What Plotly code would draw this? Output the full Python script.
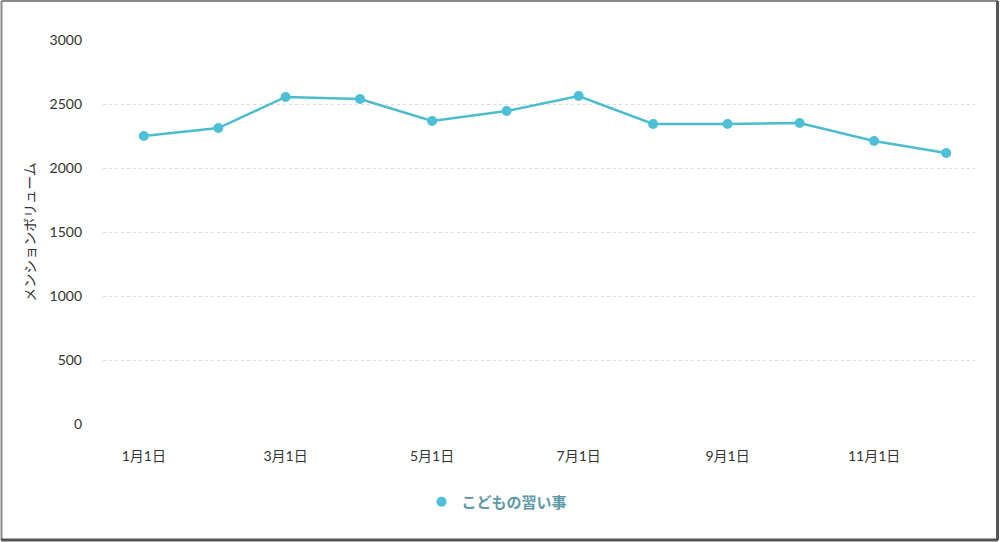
import plotly.graph_objects as go

dates = ["2023-01-01", "2023-02-01", "2023-03-01", "2023-04-01", "2023-05-01", "2023-06-01",
         "2023-07-01", "2023-08-01", "2023-09-01", "2023-10-01", "2023-11-01", "2023-12-01"]
values = [2250, 2312, 2555, 2539, 2367, 2445, 2562, 2344, 2344, 2352, 2211, 2117]
series_name = "こどもの習い事"
tick_dates = ["2023-01-01", "2023-03-01", "2023-05-01", "2023-07-01", "2023-09-01", "2023-11-01"]
tick_labels = ["1月1日", "3月1日", "5月1日", "7月1日", "9月1日", "11月1日"]
y_ticks = [0, 500, 1000, 1500, 2000, 2500, 3000]
y_title = "メンションボリューム"

font_family = "Lato, 'Noto Sans CJK JP', sans-serif"
line_color = "#4dbccf"

fig = go.Figure()
fig.add_trace(go.Scatter(
    x=dates, y=values, name=series_name, mode="lines",
    line=dict(color=line_color, width=2.5), showlegend=False,
))
fig.add_trace(go.Scatter(
    x=dates, y=values, name=series_name, mode="markers",
    marker=dict(color="#4dc0d6", size=10), showlegend=True,
))

PW, PH = 872, 384
L, T = 103, 40
def px(x):
    return (x - L) / PW
def py(y):
    return (T + PH - y) / PH

fig.update_layout(
    width=1000, height=542,
    margin=dict(l=L, r=1000 - L - PW, t=T, b=542 - T - PH),
    paper_bgcolor="white", plot_bgcolor="white",
    font=dict(family=font_family, size=14, color="#333"),
    showlegend=True,
    legend=dict(orientation="h", x=px(497), xanchor="center", y=py(502), yanchor="middle",
                font=dict(size=15, color="#5e9aa6", family=font_family, weight=600)),
    xaxis=dict(
        type="date", range=["2022-12-15", "2023-12-13"],
        tickvals=tick_dates, ticktext=tick_labels,
        showgrid=False, zeroline=False, showline=False,
        ticklabelstandoff=22, tickfont=dict(size=14, color="#333"),
    ),
    yaxis=dict(
        range=[0, 3000], tickvals=y_ticks,
        showgrid=True, gridcolor="#dcdcdc", griddash="dot", gridwidth=1,
        zeroline=False, showline=False,
        ticklabelstandoff=20, tickfont=dict(size=14, color="#333"),
        title=dict(text=y_title, font=dict(size=14, color="#333"), standoff=10),
    ),
    shapes=[
        dict(type="line", xref="paper", yref="paper", x0=px(1.5), x1=px(998), y0=py(1), y1=py(1),
             line=dict(color="#8a8a8a", width=2)),
        dict(type="line", xref="paper", yref="paper", x0=px(1.5), x1=px(1.5), y0=py(1), y1=py(540),
             line=dict(color="#8a8a8a", width=2)),
        dict(type="line", xref="paper", yref="paper", x0=px(997.5), x1=px(997.5), y0=py(1), y1=py(540),
             line=dict(color="#555555", width=3)),
        dict(type="line", xref="paper", yref="paper", x0=px(1), x1=px(998), y0=py(540), y1=py(540),
             line=dict(color="#555555", width=3)),
    ],
)

fig.write_html("out.html", config={"displayModeBar": False},
               post_script="document.body.style.margin='0';document.body.style.overflow='hidden';")
